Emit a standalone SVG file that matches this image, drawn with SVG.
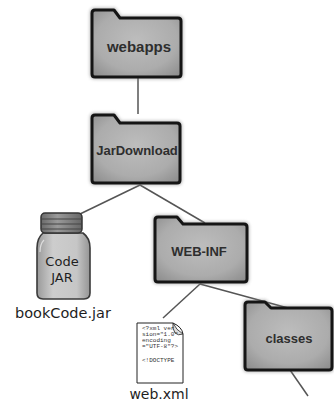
<svg xmlns="http://www.w3.org/2000/svg" width="334" height="402" viewBox="0 0 334 402">
  <defs>
    <radialGradient id="folderFill" cx="50%" cy="45%" r="70%">
      <stop offset="0" stop-color="#bdbdbd"/>
      <stop offset="0.65" stop-color="#acacac"/>
      <stop offset="1" stop-color="#8e8e8e"/>
    </radialGradient>
    <linearGradient id="jarFill" x1="0" y1="0" x2="1" y2="0">
      <stop offset="0" stop-color="#9a9a9a"/>
      <stop offset="0.3" stop-color="#cdcdcd"/>
      <stop offset="0.75" stop-color="#c6c6c6"/>
      <stop offset="1" stop-color="#959595"/>
    </linearGradient>
    <linearGradient id="lidFill" x1="0" y1="0" x2="1" y2="0">
      <stop offset="0" stop-color="#6a6a6a"/>
      <stop offset="0.4" stop-color="#9a9a9a"/>
      <stop offset="1" stop-color="#666"/>
    </linearGradient>
    <filter id="soft" x="-10%" y="-10%" width="120%" height="120%">
      <feGaussianBlur stdDeviation="1.6"/>
    </filter>
  </defs>
  <style>
    .link { stroke: #555; stroke-width: 1.5; fill: none; }
    .folder { fill: url(#folderFill); stroke: #151515; stroke-width: 3; stroke-linejoin: round; }
    .halo { fill: none; stroke: #888; stroke-width: 5; opacity: 0.5; }
    .flabel { font-family: "Liberation Sans", Arial, sans-serif; font-weight: bold; fill: #2e2e2e; text-anchor: middle; }
    .hand { font-family: "DejaVu Sans", sans-serif; fill: #1e1e1e; text-anchor: middle; }
    .code { font-family: "Liberation Mono", monospace; font-size: 6px; fill: #333; }
  </style>

  <!-- connectors -->
  <g id="connectors">
    <line class="link" x1="138" y1="78" x2="138" y2="114"/>
    <line class="link" x1="140" y1="185" x2="80" y2="214"/>
    <line class="link" x1="140" y1="185" x2="205" y2="223"/>
    <line class="link" x1="200" y1="284" x2="163" y2="318"/>
    <line class="link" x1="200" y1="284" x2="288" y2="308"/>
    <line class="link" x1="290" y1="370" x2="308" y2="396"/>
  </g>

  <!-- webapps folder -->
  <g id="webapps">
    <path class="halo" filter="url(#soft)" d="M95,10 L114,10 L120,18 L178,18 Q181,18 181,21 L181,74 Q181,77 178,77 L95,77 Q92,77 92,74 L92,13 Q92,10 95,10 Z"/>
    <path class="folder" d="M95,10 L114,10 L120,18 L178,18 Q181,18 181,21 L181,74 Q181,77 178,77 L95,77 Q92,77 92,74 L92,13 Q92,10 95,10 Z"/>
    <text class="flabel" x="139" y="52" font-size="15">webapps</text>
  </g>

  <!-- JarDownload folder -->
  <g id="jardownload">
    <path class="halo" filter="url(#soft)" d="M95,115 L114,115 L120,123 L177,123 Q180,123 180,126 L180,180 Q180,183 177,183 L95,183 Q92,183 92,180 L92,118 Q92,115 95,115 Z"/>
    <path class="folder" d="M95,115 L114,115 L120,123 L177,123 Q180,123 180,126 L180,180 Q180,183 177,183 L95,183 Q92,183 92,180 L92,118 Q92,115 95,115 Z"/>
    <text class="flabel" x="137" y="155" font-size="13">JarDownload</text>
  </g>

  <!-- bookCode.jar -->
  <g id="bookcode-jar">
    <path d="M43,233 Q37,238 37,248 L37,293 Q37,299 43,299 L84,299 Q90,299 90,293 L90,248 Q90,238 83,233 Z" fill="url(#jarFill)" stroke="#3a3a3a" stroke-width="1.6"/>
    <path d="M44,240 Q40,244 40,252" fill="none" stroke="#f2f2f2" stroke-width="1.2" opacity="0.7"/>
    <rect x="41" y="213" width="41" height="20" rx="4" fill="url(#lidFill)" stroke="#333" stroke-width="1.5"/>
    <line x1="42" y1="219" x2="81" y2="219" stroke="#444" stroke-width="1.1"/>
    <line x1="42" y1="224" x2="81" y2="224" stroke="#444" stroke-width="1.1"/>
    <line x1="42" y1="229" x2="81" y2="229" stroke="#444" stroke-width="1"/>
    <text class="hand" x="62" y="266" font-size="13">Code</text>
    <text class="hand" x="62" y="282" font-size="13">JAR</text>
    <text class="hand" x="63" y="318" font-size="14.5">bookCode.jar</text>
  </g>

  <!-- WEB-INF folder -->
  <g id="web-inf">
    <path class="halo" filter="url(#soft)" d="M158,217 L177,217 L183,224 L244,224 Q247,224 247,227 L247,279 Q247,282 244,282 L158,282 Q155,282 155,279 L155,220 Q155,217 158,217 Z"/>
    <path class="folder" d="M158,217 L177,217 L183,224 L244,224 Q247,224 247,227 L247,279 Q247,282 244,282 L158,282 Q155,282 155,279 L155,220 Q155,217 158,217 Z"/>
    <text class="flabel" x="199" y="256" font-size="13">WEB-INF</text>
  </g>

  <!-- web.xml document -->
  <g id="web-xml">
    <path d="M137,323 L173,323 Q182,327 183,334 L183,383 L137,383 Z" fill="#fff" stroke="#222" stroke-width="1"/>
    <path d="M173,323 Q176,330 183,334 Q178,336 175,333 Q172,328 173,323 Z" fill="#ddd" stroke="#222" stroke-width="0.8"/>
    <text class="code" x="142" y="330">&lt;?xml ver</text>
    <text class="code" x="142" y="336">sion="1.0"</text>
    <text class="code" x="142" y="342">encoding</text>
    <text class="code" x="142" y="348">="UTF-8"?&gt;</text>
    <text class="code" x="142" y="362">&lt;!DOCTYPE</text>
    <text class="hand" x="159" y="399" font-size="14">web.xml</text>
  </g>

  <!-- classes folder -->
  <g id="classes">
    <path class="halo" filter="url(#soft)" d="M248,302 L265,302 L271,308 L329,308 Q332,308 332,311 L332,367 Q332,370 329,370 L248,370 Q245,370 245,367 L245,305 Q245,302 248,302 Z"/>
    <path class="folder" d="M248,302 L265,302 L271,308 L329,308 Q332,308 332,311 L332,367 Q332,370 329,370 L248,370 Q245,370 245,367 L245,305 Q245,302 248,302 Z"/>
    <text class="flabel" x="289" y="343" font-size="13">classes</text>
  </g>
</svg>
